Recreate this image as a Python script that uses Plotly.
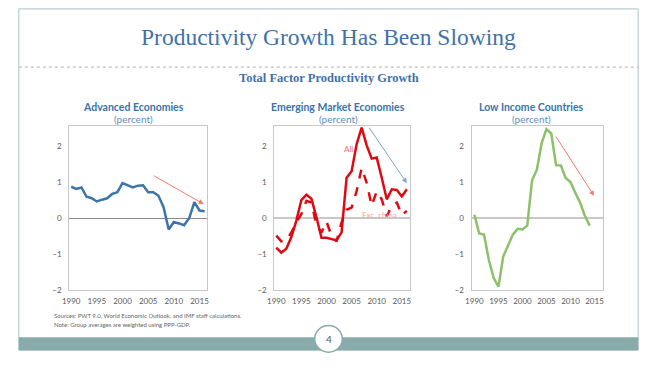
import plotly.graph_objects as go

W, H = 653, 369

years_adv = list(range(1990, 2017))
adv = [0.87, 0.81, 0.85, 0.59, 0.55, 0.46, 0.51, 0.55, 0.67, 0.72, 0.97, 0.91, 0.85, 0.90, 0.91,
       0.72, 0.72, 0.62, 0.30, -0.32, -0.11, -0.15, -0.20, 0.00, 0.44, 0.21, 0.19]

years_em = list(range(1990, 2017))
em_all = [-0.82, -0.96, -0.85, -0.53, -0.07, 0.50, 0.65, 0.54, 0.02, -0.55, -0.55, -0.58, -0.62,
          -0.40, 1.12, 1.30, 2.05, 2.51, 2.02, 1.65, 1.68, 1.12, 0.52, 0.80, 0.78, 0.60, 0.80]
em_exc = [-0.49, -0.65, -0.62, -0.40, -0.12, 0.11, 0.48, 0.43, -0.20, -0.40, -0.10, -0.49, -0.65,
          -0.12, 0.23, 0.29, 0.75, 1.39, 0.98, 0.34, 0.74, 0.52, 0.05, 0.34, 0.43, 0.08, 0.20]

years_lic = list(range(1990, 2015))
lic = [0.09, -0.43, -0.46, -1.16, -1.66, -1.91, -1.07, -0.74, -0.46, -0.30, -0.32, -0.21, 1.05,
       1.34, 2.08, 2.47, 2.35, 1.47, 1.46, 1.11, 1.00, 0.70, 0.43, 0.06, -0.21]

x_ticks = [1990, 1995, 2000, 2005, 2010, 2015]
y_ticks = [-2, -1, 0, 1, 2]

TITLE = "Productivity Growth Has Been Slowing"
SUBTITLE = "Total Factor Productivity Growth"
panel_titles = ["Advanced Economies", "Emerging Market Economies", "Low Income Countries"]
notes = ["Sources: PWT 9.0, World Economic Outlook, and IMF staff calculations.",
         "Note: Group averages are weighted using PPP-GDP."]

def px_x(x):
    return x / W

def px_y(y):
    return 1 - y / H

fig = go.Figure()

panels = [
    dict(xd=(63, 203), xr=(1989.6, 2016.5), zc="#8c8c8c", zw=1),
    dict(xd=(271, 409), xr=(1989.6, 2016.7), zc="#c8c8c8", zw=2),
    dict(xd=(471, 604), xr=(1989.4, 2016.7), zc="#c8c8c8", zw=2),
]
yd = (px_y(294), px_y(128))

for i, p in enumerate(panels):
    n = "" if i == 0 else str(i + 1)
    fig.update_layout(**{
        f"xaxis{n}": dict(domain=[px_x(p["xd"][0]), px_x(p["xd"][1])], range=list(p["xr"]),
                          tickvals=x_ticks, showgrid=False, zeroline=False,
                          showline=True, mirror=True, linecolor="#c8c8c8", linewidth=1,
                          ticks="", ticklabelstandoff=3,
                          tickfont=dict(family="Lato", size=8, color="#595959"),
                          anchor=f"y{n}", fixedrange=True),
        f"yaxis{n}": dict(domain=list(yd), range=[-2, 2.55], tickvals=y_ticks,
                          showgrid=False, zeroline=True, zerolinecolor=p["zc"], zerolinewidth=p["zw"],
                          showline=True, mirror=True, linecolor="#c8c8c8", linewidth=1,
                          ticks="", ticklabelstandoff=5,
                          tickfont=dict(family="Lato", size=8, color="#595959"),
                          anchor=f"x{n}", fixedrange=True),
    })

fig.add_trace(go.Scatter(x=years_adv, y=adv, mode="lines", line=dict(color="#3c76a9", width=2.5),
                         xaxis="x", yaxis="y", showlegend=False))
fig.add_trace(go.Scatter(x=years_em, y=em_all, mode="lines", line=dict(color="#dd0a12", width=2.5),
                         xaxis="x2", yaxis="y2", showlegend=False))
fig.add_trace(go.Scatter(x=years_em, y=em_exc, mode="lines", line=dict(color="#dd0a12", width=2.5, dash="dash"),
                         xaxis="x2", yaxis="y2", showlegend=False))
fig.add_trace(go.Scatter(x=years_lic, y=lic, mode="lines", line=dict(color="#8dc06a", width=2.5),
                         xaxis="x3", yaxis="y3", showlegend=False))

ann = []
# arrows
ann.append(dict(x=2015.8, y=0.39, ax=2005.8, ay=1.2, xref="x", yref="y", axref="x", ayref="y",
                showarrow=True, arrowhead=2, arrowsize=1, arrowwidth=1, arrowcolor="#ef7b68", text=""))
ann.append(dict(x=2016.0, y=0.97, ax=2008.3, ay=2.55, xref="x2", yref="y2", axref="x2", ayref="y2",
                showarrow=True, arrowhead=2, arrowsize=1, arrowwidth=1, arrowcolor="#7ea6c8", text=""))
ann.append(dict(x=2014.9, y=0.62, ax=2006.8, ay=2.3, xref="x3", yref="y3", axref="x3", ayref="y3",
                showarrow=True, arrowhead=2, arrowsize=1, arrowwidth=1, arrowcolor="#ef7b68", text=""))

def txt(x, y, text, font, xanchor="center"):
    ann.append(dict(x=px_x(x), y=px_y(y), xref="paper", yref="paper", text=text, showarrow=False,
                    xanchor=xanchor, yanchor="middle", font=font))

# series labels
txt(346, 151, "All", dict(family="Lato", size=8, color="#f06a6a"))
txt(378, 218, "Exc. china", dict(family="Lato", size=8, color="#f4a0a0"))
# panel titles
for cx, t in zip([128, 336, 532], panel_titles):
    txt(cx, 108, f"<b>{t}</b>", dict(family="Lato", size=10.5, color="#3b73a8"))
    txt(cx, 121, "(percent)", dict(family="Lato", size=10, color="#5b8fc4"))
# main title
txt(326, 38, TITLE, dict(family="Liberation Serif", size=23.5, color="#3f72a8"))
txt(326, 79, f"<b>{SUBTITLE}</b>", dict(family="Liberation Serif", size=12.5, color="#3f72a8"))
# notes
for k, t in enumerate(notes):
    txt(46, 320 + 8.5 * k, t, dict(family="Lato", size=6, color="#666666"), xanchor="left")
# page number
txt(326, 344, "4", dict(family="Lato", size=10, color="#555555"))

shapes = [
    dict(type="rect", xref="paper", yref="paper", x0=px_x(12), x1=px_x(640), y0=px_y(355), y1=px_y(9),
         line=dict(color="#a9c2c2", width=1), fillcolor="rgba(0,0,0,0)", layer="below"),
    dict(type="line", xref="paper", yref="paper", x0=px_x(12), x1=px_x(640), y0=px_y(68), y1=px_y(68),
         line=dict(color="#b0b0b0", width=1, dash="dot")),
    dict(type="rect", xref="paper", yref="paper", x0=px_x(12), x1=px_x(640), y0=px_y(355), y1=px_y(342),
         line=dict(width=0), fillcolor="#89abab"),
    dict(type="circle", xref="paper", yref="paper", x0=px_x(312), x1=px_x(340), y0=px_y(357), y1=px_y(330),
         line=dict(color="#89abab", width=1.5), fillcolor="white"),
]

fig.update_layout(width=W, height=H, margin=dict(l=0, r=0, t=0, b=0),
                  paper_bgcolor="white", plot_bgcolor="white",
                  annotations=ann, shapes=shapes, showlegend=False)

fig.write_html("out.html", config={"displayModeBar": False},
               post_script="document.body.style.margin='0';")
